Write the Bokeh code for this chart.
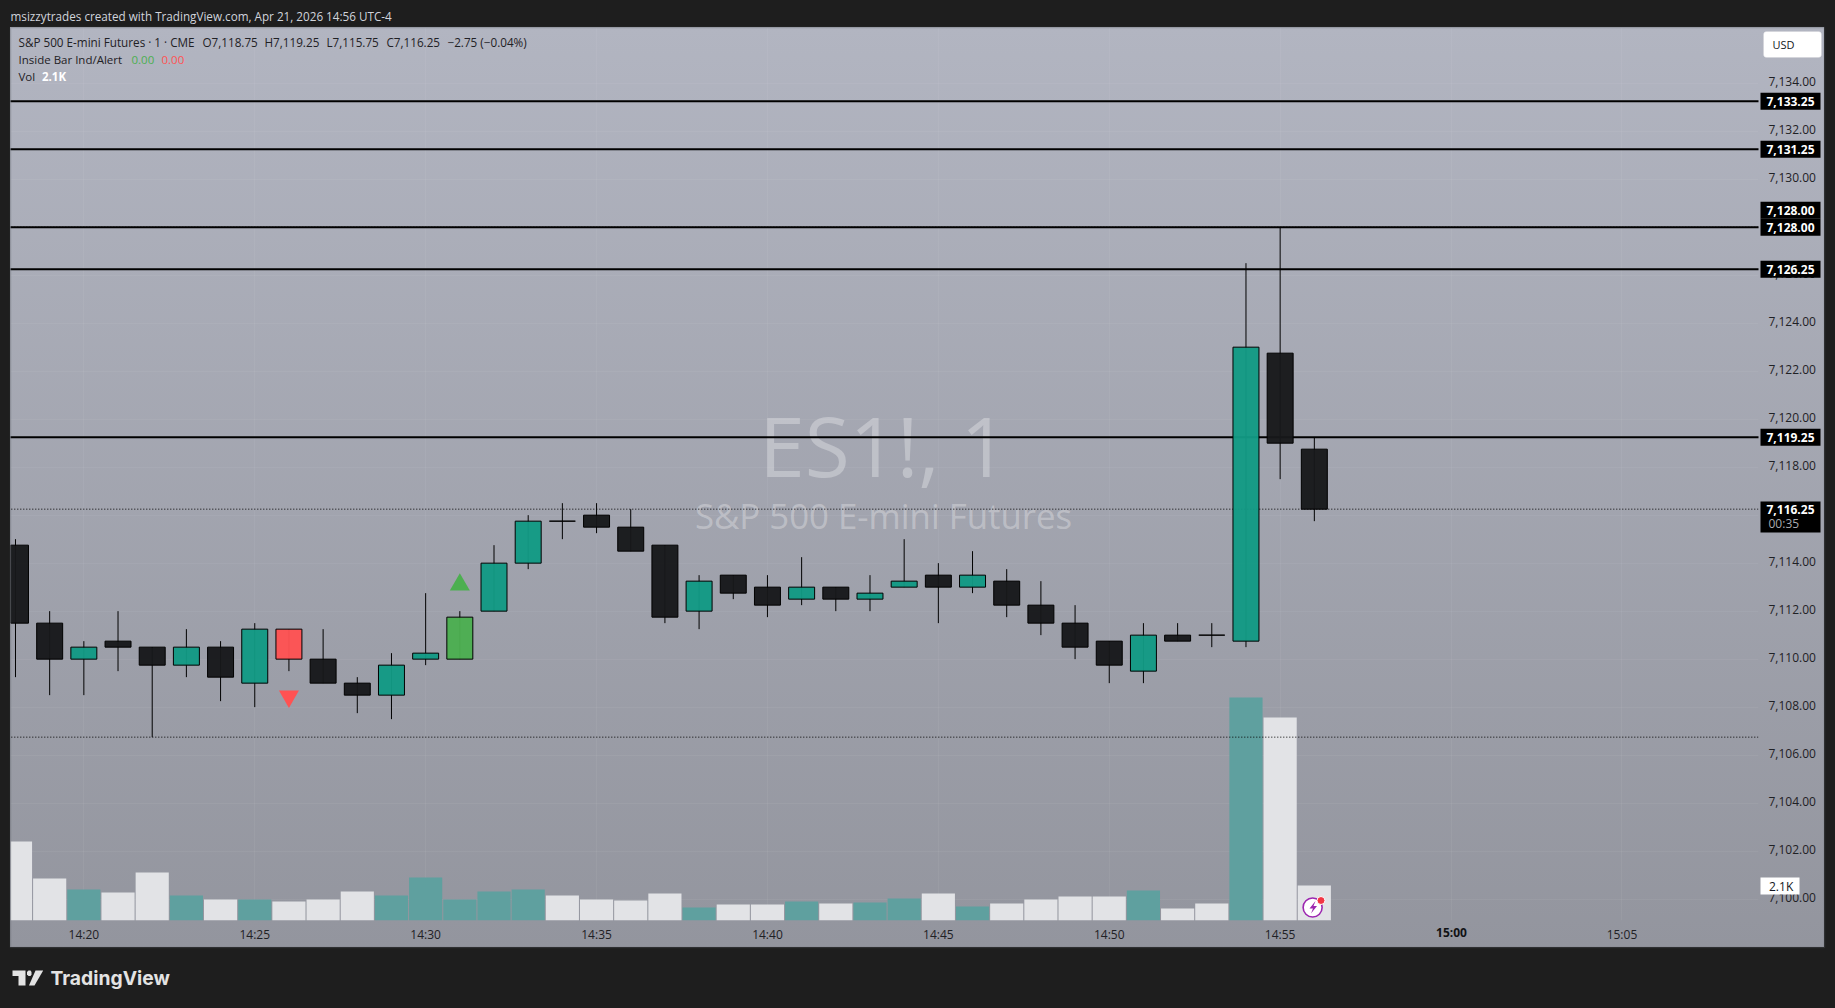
from bokeh.plotting import figure
from bokeh.models import (ColumnDataSource, Range1d, FixedTicker, NumeralTickFormatter, Label, LinearAxis,
                          BoxAnnotation, PolyAnnotation)
from bokeh.embed import file_html
from bokeh.resources import INLINE

times = ["14:18","14:19","14:20","14:21","14:22","14:23","14:24","14:25","14:26","14:27","14:28","14:29","14:30",
         "14:31","14:32","14:33","14:34","14:35","14:36","14:37","14:38","14:39","14:40","14:41","14:42","14:43",
         "14:44","14:45","14:46","14:47","14:48","14:49","14:50","14:51","14:52","14:53","14:54","14:55","14:56"]
opens = [7114.75,7111.5,7110.0,7110.75,7110.5,7109.75,7110.5,7109.0,7111.25,7110.0,7109.0,7108.5,7110.0,7110.0,
         7112.0,7114.0,7115.75,7116.0,7115.5,7114.75,7112.0,7113.5,7113.0,7112.5,7113.0,7112.5,7113.0,7113.5,
         7113.0,7113.25,7112.25,7111.5,7110.75,7109.5,7111.0,7111.0,7110.75,7122.75,7118.75]
highs = [7115.0,7112.0,7110.75,7112.0,7110.5,7111.25,7110.75,7111.5,7111.25,7111.25,7109.25,7110.25,7112.75,7112.0,
         7114.75,7116.0,7116.5,7116.5,7116.25,7114.75,7113.5,7113.5,7113.5,7114.25,7113.0,7113.5,7115.0,7114.0,
         7114.5,7113.75,7113.25,7112.25,7110.75,7111.5,7111.5,7111.5,7126.5,7128.0,7119.25]
lows = [7109.25,7108.5,7108.5,7109.5,7106.75,7109.25,7108.25,7108.0,7109.5,7109.0,7107.75,7107.5,7109.75,7110.0,
        7112.0,7113.75,7115.0,7115.25,7114.5,7111.5,7111.25,7112.5,7111.75,7112.25,7112.0,7112.0,7113.0,7111.5,
        7112.75,7111.75,7111.0,7110.0,7109.0,7109.0,7110.75,7110.5,7110.5,7117.5,7115.75]
closes = [7111.5,7110.0,7110.5,7110.5,7109.75,7110.5,7109.25,7111.25,7110.0,7109.0,7108.5,7109.75,7110.25,7111.75,
          7114.0,7115.75,7115.75,7115.5,7114.5,7111.75,7113.25,7112.75,7112.25,7113.0,7112.5,7112.75,7113.25,7113.0,
          7113.5,7112.25,7111.5,7110.5,7109.75,7111.0,7110.75,7111.0,7123.0,7119.0,7116.25]
volumes = [4740,2520,1860,1680,2880,1500,1260,1260,1140,1260,1740,1500,2580,1260,1740,1860,1500,1260,1200,1620,780,
           960,960,1140,1020,1080,1320,1620,840,1020,1260,1440,1440,1800,720,1020,13380,12180,2100]
inside_down = ["14:26"]
inside_up = ["14:31"]
signal_up = [("14:31", 7113.1)]
signal_down = [("14:26", 7108.45)]
level_lines = [7133.25, 7131.25, 7128.0, 7126.25, 7119.25]
dotted_lines = [7128.0, 7116.25, 7106.75]
time_ticks = {"14:20":2,"14:25":7,"14:30":12,"14:35":17,"14:40":22,"14:45":27,"14:50":32,"14:55":37,"15:05":47}
bold_tick = ("15:00", 42)
price_ticks = list(range(7100, 7136, 2))

FONT = "Open Sans"
BG = "#1e1e1e"
W, H = 1835, 1008

# chart figure: frame, axes and marks
p = figure(width=W, height=H, output_backend="svg", toolbar_location=None, y_axis_location=None,
           x_range=Range1d(-0.146, 50.995), y_range=Range1d(7099.11, 7136.32),
           min_border_left=10, min_border_right=77, min_border_top=27, min_border_bottom=88,
           background_fill_alpha=0, border_fill_alpha=0, outline_line_color=None,
           styles={"background": f"linear-gradient(#b2b5c1, #93959e) 10px 27px / 1814px 920px no-repeat, {BG}"})
p.extra_y_ranges = {"vol": Range1d(0, 53580), "ticks": Range1d(7099.11 - 0.07, 7136.32 - 0.07)}

price_axis = LinearAxis(y_range_name="ticks", ticker=FixedTicker(ticks=price_ticks),
                        formatter=NumeralTickFormatter(format="0,0.00"))
p.add_layout(price_axis, "right")
p.ygrid.ticker = FixedTicker(ticks=price_ticks)
p.xaxis.ticker = FixedTicker(ticks=list(time_ticks.values()) + [bold_tick[1]])
p.xaxis.major_label_overrides = {**{v: k for k, v in time_ticks.items()}, bold_tick[1]: ""}
for ax in (p.xaxis[0], price_axis):
    ax.axis_line_color = None
    ax.major_tick_line_color = None
    ax.major_tick_out = 0
    ax.major_tick_in = 0
    ax.minor_tick_line_color = None
    ax.major_label_text_font = FONT
    ax.major_label_text_font_size = "12px"
    ax.major_label_text_color = "#1f2125"
price_axis.major_label_standoff = 10
p.xaxis.major_label_standoff = 5
p.grid.grid_line_color = "#ffffff"
p.grid.grid_line_alpha = 0.05

x = list(range(len(times)))
TEAL, BLACK = "#129a84", "#17181a"
def body_colour(t, o, c):
    if t in inside_down: return "#ff5252"
    if t in inside_up: return "#4caf50"
    return TEAL if c > o else BLACK
colours = [body_colour(t, o, c) for t, o, c in zip(times, opens, closes)]
src = ColumnDataSource(dict(x=x, o=opens, h=highs, l=lows, c=closes, col=colours, v=volumes,
                            vcol=["#5fa09f" if c > o else "#e2e3e6" for o, c in zip(opens, closes)]))

p.vbar(x="x", top="v", bottom=0, width=0.97, source=src, fill_color="vcol", line_color=None, y_range_name="vol")

for lv in level_lines:
    p.ray(x=[-1], y=[lv], length=0, angle=0, line_color="#000000", line_width=2)
for lv in dotted_lines:
    p.ray(x=[-1], y=[lv], length=0, angle=0, line_color="#000000", line_width=1, line_dash="1 2")

p.segment(x0="x", x1="x", y0="l", y1="h", source=src, line_color="#000000", line_width=1)
p.vbar(x="x", top="o", bottom="c", width=0.76, source=src, fill_color="col", fill_alpha=0.96,
       line_color="#000000", line_width=1)

p.scatter(x=[times.index(t) for t, _ in signal_up], y=[v for _, v in signal_up], marker="triangle", size=20,
          fill_color="#4caf50", line_color=None)
p.scatter(x=[times.index(t) for t, _ in signal_down], y=[v for _, v in signal_down], marker="inverted_triangle", size=20,
          fill_color="#ff5252", line_color=None)

icon_x, icon_v = times.index("14:56") - 0.05, 780
p.scatter(x=[icon_x], y=[icon_v], size=19, marker="circle", fill_color="#ffffff", line_color="#9c27b0", line_width=1.6,
          y_range_name="vol")
p.scatter(x=[icon_x + 0.245], y=[1200], size=8, marker="circle", fill_color="#f23645", line_color="#ffffff", line_width=1,
          y_range_name="vol")

# watermark below the marks
for s, yy, size in [("ES1!, 1", 444, 82), ("S&P 500 E-mini Futures", 515, 34.8)]:
    p.add_layout(Label(x=883, y=yy, x_units="canvas", y_units="canvas", text=s, text_font=FONT,
                       text_font_size=f"{size}px", text_color="#ffffff", text_alpha=0.3, text_align="center",
                       text_baseline="middle", level="underlay"))

# overlay figure: same y scale, its frame covers the whole page so its texts reach the pane's margins
o = figure(width=W, height=H, output_backend="svg", toolbar_location=None,
           x_range=Range1d(0, W), y_range=Range1d(7095.446, 7137.446),
           min_border=0, background_fill_alpha=0, border_fill_alpha=0, outline_line_color=None,
           x_axis_location=None, y_axis_location=None,
           styles={"position": "absolute", "left": "0", "top": "0", "pointer-events": "none"})
o.grid.visible = False

def text(s, X, Y, size=12, color="#1f2125", font=FONT, style="normal", align="left", baseline="middle", **kw):
    o.add_layout(Label(x=X, y=Y, x_units="canvas", y_units="canvas", text=s, text_font=font,
                       text_font_size=f"{size}px", text_color=color, text_font_style=style, text_align=align,
                       text_baseline=baseline, **kw))
def box(l, r, t, b, fill, **kw):
    o.add_layout(BoxAnnotation(left=l, right=r, top=t, bottom=b, left_units="canvas", right_units="canvas",
                               top_units="canvas", bottom_units="canvas", fill_color=fill, **kw))
def poly(xs, ys, fill):
    o.add_layout(PolyAnnotation(xs=xs, ys=ys, xs_units="canvas", ys_units="canvas", fill_color=fill, fill_alpha=1,
                                line_color=None))

box(10, 1824, 27, 947, "#000000", fill_alpha=0, line_color="#5b5d62", line_width=1.5)

text("msizzytrades created with TradingView.com, Apr 21, 2026 14:56 UTC-4", 10, 15, size=11.7, color="#d1d4dc")
text("TradingView", 50, 977, size=19.3, color="#e3e3e3", font="Inter", style="bold")
poly([12, 25, 25, 18, 18, 12], [970, 970, 985, 985, 975.5, 975.5], "#e3e3e3")
poly([35, 42.7, 34, 28.5], [970, 970, 985, 985], "#e3e3e3")
poly([28, 30, 31, 31, 30, 28, 26.5, 26.5], [970, 970, 971.5, 974, 975.5, 975.5, 974, 971.5], "#e3e3e3")

for s, X in [("S&P 500 E-mini Futures · 1 · CME", 18), ("O7,118.75", 202), ("H7,119.25", 264), ("L7,115.75", 326),
             ("C7,116.25", 386), ("−2.75 (−0.04%)", 447)]:
    text(s, X, 41.5, size=11.7)
text("Inside Bar Ind/Alert", 18, 59, size=11.5)
text("0.00", 131, 59, size=11.5, color="#4caf50")
text("0.00", 161, 59, size=11.5, color="#ff5252")
text("Vol", 18, 76, size=11.5)
text("2.1K", 41.5, 76, size=11.5, color="#ffffff", style="bold")

text(bold_tick[0], 1451, 932, color="#111215", style="bold", align="center")

box(1763, 1821, 31, 57, "#ffffff", fill_alpha=1, line_color="#c9cbd2", line_width=1, border_radius=3)
text("USD", 1772, 44, size=11, color="#131722")

def price_label(v, s, dy=0):
    half = 8.5 / 24
    shift = dy / 24
    o.add_layout(BoxAnnotation(left=1760, right=1820, top=v + shift + half, bottom=v + shift - half,
                               left_units="canvas", right_units="canvas", fill_color="#000000", fill_alpha=1,
                               line_color=None))
    o.add_layout(Label(x=1790, y=v, x_units="canvas", y_units="data", y_offset=dy, text=s, text_font=FONT,
                       text_font_size="12px", text_font_style="bold", text_color="#ffffff", text_align="center",
                       text_baseline="middle"))
price_label(7128.0, "7,128.00", 17)
for v in level_lines:
    price_label(v, f"{v:,.2f}")
box(1760, 1820, 501, 532, "#000000", fill_alpha=1, line_color=None)
text("7,116.25", 1790, 508.5, color="#ffffff", style="bold", align="center")
text("00:35", 1768, 523, size=12, color="#a9abb0")

box(1760, 1799, 877, 894, "#ffffff", fill_alpha=1, line_color=None)
text("2.1K", 1768.5, 885.5, size=12, color="#131722")

poly([1315, 1309, 1312.5, 1310.5, 1316.5, 1313, 1315], [900.5, 908, 908, 913, 905.5, 905.5, 900.5], "#9c27b0")

open("out.html", "w").write(file_html([p, o], INLINE))
